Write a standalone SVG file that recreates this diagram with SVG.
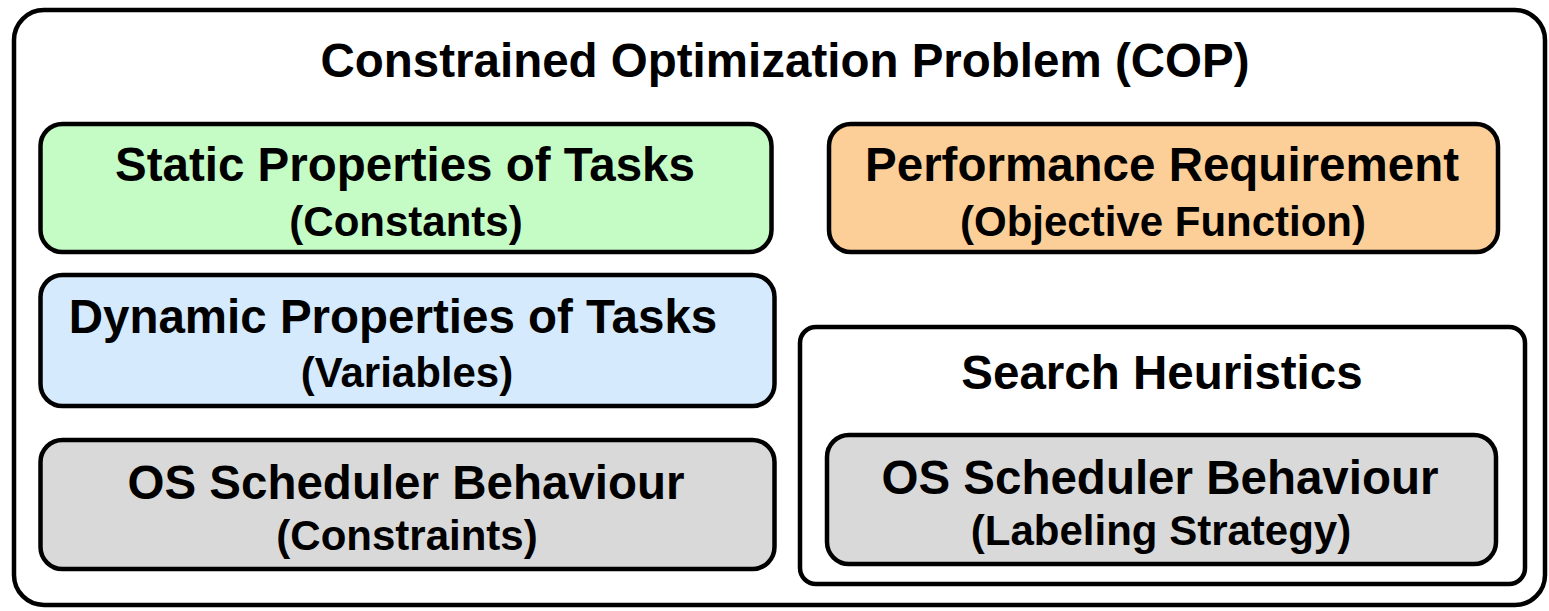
<svg xmlns="http://www.w3.org/2000/svg" width="1549" height="611" viewBox="0 0 1549 611">
<style>
.box{stroke:#000;stroke-width:4.5}
.h{font-family:"Liberation Sans",Arial,sans-serif;font-weight:bold;font-size:47.5px;text-anchor:middle;fill:#000}
.s{font-family:"Liberation Sans",Arial,sans-serif;font-weight:bold;font-size:42px;text-anchor:middle;fill:#000}
</style>
<rect width="1549" height="611" fill="#fff"/>
<g id="cop">
<rect class="box" x="14" y="10" width="1531" height="595" rx="30" fill="#fff"/>
<text class="h" x="785" y="77">Constrained Optimization Problem (COP)</text>
</g>
<g id="static">
<rect class="box" x="40.5" y="124" width="731" height="128" rx="22" fill="#c5fcc5"/>
<text class="h" x="405" y="181">Static Properties of Tasks</text>
<text class="s" x="406" y="236">(Constants)</text>
</g>
<g id="performance">
<rect class="box" x="829" y="124" width="669" height="128" rx="22" fill="#fdcf98"/>
<text class="h" x="1162" y="181">Performance Requirement</text>
<text class="s" x="1163" y="236">(Objective Function)</text>
</g>
<g id="dynamic">
<rect class="box" x="40.5" y="275" width="734" height="131" rx="22" fill="#d5eafc"/>
<text class="h" x="393" y="333">Dynamic Properties of Tasks</text>
<text class="s" x="407" y="387">(Variables)</text>
</g>
<g id="os-constraints">
<rect class="box" x="40.5" y="440" width="734" height="129" rx="22" fill="#d9d9d9"/>
<text class="h" x="406" y="499">OS Scheduler Behaviour</text>
<text class="s" x="407" y="550">(Constraints)</text>
</g>
<g id="search">
<rect class="box" x="800" y="327" width="725" height="257" rx="16" fill="#fff"/>
<text class="h" x="1162" y="389">Search Heuristics</text>
</g>
<g id="os-labeling">
<rect class="box" x="827" y="435" width="669" height="129" rx="22" fill="#d9d9d9"/>
<text class="h" x="1160" y="494">OS Scheduler Behaviour</text>
<text class="s" x="1161" y="545">(Labeling Strategy)</text>
</g>
<g id="connectors"/>
</svg>
